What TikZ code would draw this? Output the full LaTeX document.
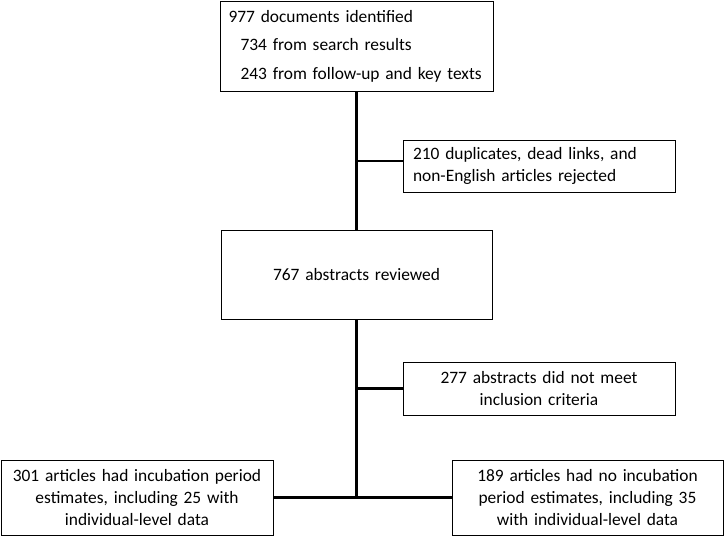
\documentclass[tikz,border=0pt]{standalone}
\usepackage{fontspec}
\setmainfont{Carlito}
\usetikzlibrary{calc}
\usetikzlibrary{positioning}

\begin{document}
\begin{tikzpicture}[x=1pt, y=-1pt,
        flowbox/.style={draw=black, line width=1pt, fill=white, inner ysep=0pt, inner xsep=10pt,
                        font=\fontsize{17.4}{22}\selectfont},
        trunk/.style={line width=2.5pt}]
            % Frame to fix the margins:
            \useasboundingbox                                          (  0.0,   0.0) rectangle (725.0, 536.0);
            % Boxes of the main column:
            \node[flowbox, text width=256pt, inner xsep=8.5pt, align=left, minimum height=90pt] (found) at (356.5,  46.0)
                 {977 documents identified\\[6.5pt]
                  \hspace*{12pt}734 from search results\\[6.5pt]
                  \hspace*{12pt}243 from follow-up and key texts};
            \node[flowbox, text width=251pt, align=center, minimum height=89pt] (reviewed) at (356.5, 274.5)
                 {767 abstracts reviewed};
            % Boxes of the rejected branches:
            \node[flowbox, text width=252pt, align=left, minimum height=52pt] (dupes)    at (539.0, 166.0)
                 {210 duplicates, dead links, and\\non-English articles rejected};
            \node[flowbox, text width=252pt, align=center, minimum height=53pt] (criteria) at (539.0, 388.5)
                 {277 abstracts did not meet\\inclusion criteria};
            % Boxes of the final split:
            \node[flowbox, text width=252pt, align=center, minimum height=75pt] (withest)  at (137.0, 497.5)
                 {301 articles had incubation period\\estimates, including 25 with\\individual-level data};
            \node[flowbox, text width=251pt, align=center, minimum height=75pt] (noest)    at (587.5, 497.5)
                 {189 articles had no incubation\\period estimates, including 35\\with individual-level data};
            % Junctions on the trunk:
            \coordinate (j1) at (356.5, 161.0);
            \coordinate (j2) at (356.5, 388.5);
            \coordinate (j3) at (356.5, 497.5);
            % Connectors:
            \draw[trunk] (found.south) -- (reviewed.north);
            \draw[trunk] (reviewed.south) -- (j3);
            \draw[trunk] (j1) -- (j1 -| dupes.west);
            \draw[trunk] (j2) -- (criteria.west);
            \draw[trunk] (withest.east) -- (noest.west);
        \end{tikzpicture}
\end{document}
